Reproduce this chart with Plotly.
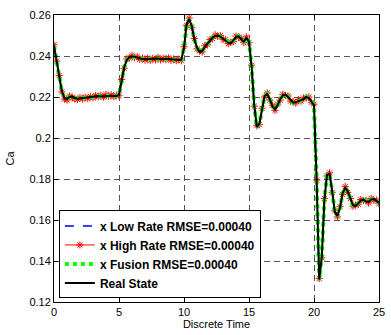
import plotly.graph_objects as go

# Real state values sampled every 0.2 time units (t = 0 ... 25)
real_state = [
    0.2450, 0.2380, 0.2300, 0.2230, 0.2195, 0.2190, 0.2200, 0.2203, 0.2195, 0.2192,
    0.2193, 0.2195, 0.2195, 0.2196, 0.2198, 0.2200, 0.2203, 0.2205, 0.2203, 0.2204,
    0.2207, 0.2208, 0.2206, 0.2205, 0.2205, 0.2210, 0.2280, 0.2345, 0.2380, 0.2395,
    0.2398, 0.2397, 0.2392, 0.2388, 0.2385, 0.2384, 0.2385, 0.2383, 0.2384, 0.2386,
    0.2388, 0.2386, 0.2384, 0.2387, 0.2386, 0.2384, 0.2381, 0.2382, 0.2380, 0.2382,
    0.2440, 0.2555, 0.2580, 0.2545, 0.2480, 0.2440, 0.2420, 0.2425, 0.2445, 0.2460,
    0.2475, 0.2490, 0.2498, 0.2500, 0.2495, 0.2485, 0.2475, 0.2465, 0.2462, 0.2475,
    0.2492, 0.2497, 0.2480, 0.2470, 0.2488, 0.2470, 0.2350, 0.2160, 0.2055, 0.2070,
    0.2140, 0.2205, 0.2215, 0.2190, 0.2155, 0.2140, 0.2160, 0.2190, 0.2208, 0.2212,
    0.2200, 0.2185, 0.2172, 0.2175, 0.2182, 0.2185, 0.2190, 0.2200, 0.2195, 0.2180,
    0.2160, 0.1800, 0.1310, 0.1420, 0.1700, 0.1820, 0.1825, 0.1740, 0.1640, 0.1620,
    0.1660, 0.1730, 0.1758, 0.1740, 0.1700, 0.1672, 0.1668, 0.1682, 0.1695, 0.1700,
    0.1690, 0.1688, 0.1700, 0.1702, 0.1692, 0.1685,
]
time = [round(i * 0.2, 1) for i in range(len(real_state))]

# Estimates (visually indistinguishable from the real state)
low_rate = [
    0.2448, 0.2382, 0.2302, 0.2228, 0.2197, 0.2192, 0.2198, 0.2201, 0.2197, 0.2193,
    0.2192, 0.2196, 0.2194, 0.2197, 0.2197, 0.2201, 0.2202, 0.2204, 0.2204, 0.2203,
    0.2206, 0.2209, 0.2205, 0.2206, 0.2204, 0.2211, 0.2278, 0.2347, 0.2378, 0.2396,
    0.2397, 0.2398, 0.2391, 0.2389, 0.2384, 0.2385, 0.2384, 0.2384, 0.2383, 0.2387,
    0.2387, 0.2387, 0.2383, 0.2388, 0.2385, 0.2385, 0.2380, 0.2383, 0.2379, 0.2383,
    0.2438, 0.2553, 0.2578, 0.2547, 0.2478, 0.2442, 0.2418, 0.2427, 0.2443, 0.2462,
    0.2473, 0.2492, 0.2496, 0.2502, 0.2493, 0.2487, 0.2473, 0.2467, 0.2460, 0.2477,
    0.2490, 0.2499, 0.2478, 0.2472, 0.2486, 0.2472, 0.2348, 0.2162, 0.2053, 0.2072,
    0.2138, 0.2207, 0.2213, 0.2192, 0.2153, 0.2142, 0.2158, 0.2192, 0.2206, 0.2214,
    0.2198, 0.2187, 0.2170, 0.2177, 0.2180, 0.2187, 0.2188, 0.2202, 0.2193, 0.2182,
    0.2158, 0.1802, 0.1312, 0.1418, 0.1702, 0.1818, 0.1827, 0.1738, 0.1642, 0.1618,
    0.1662, 0.1728, 0.1760, 0.1738, 0.1702, 0.1670, 0.1670, 0.1680, 0.1697, 0.1698,
    0.1692, 0.1686, 0.1702, 0.1700, 0.1694, 0.1683,
]
high_rate = [
    0.2455, 0.2375, 0.2305, 0.2225, 0.2190, 0.2185, 0.2205, 0.2198, 0.2190, 0.2188,
    0.2197, 0.2190, 0.2199, 0.2192, 0.2203, 0.2196, 0.2207, 0.2201, 0.2208, 0.2199,
    0.2212, 0.2203, 0.2211, 0.2201, 0.2209, 0.2206, 0.2285, 0.2340, 0.2385, 0.2390,
    0.2403, 0.2392, 0.2397, 0.2383, 0.2390, 0.2380, 0.2389, 0.2378, 0.2389, 0.2381,
    0.2393, 0.2381, 0.2389, 0.2382, 0.2391, 0.2379, 0.2386, 0.2377, 0.2385, 0.2377,
    0.2445, 0.2550, 0.2585, 0.2540, 0.2485, 0.2435, 0.2425, 0.2420, 0.2450, 0.2455,
    0.2480, 0.2485, 0.2503, 0.2495, 0.2500, 0.2480, 0.2480, 0.2460, 0.2467, 0.2470,
    0.2497, 0.2492, 0.2485, 0.2465, 0.2493, 0.2465, 0.2355, 0.2155, 0.2060, 0.2065,
    0.2145, 0.2200, 0.2220, 0.2185, 0.2160, 0.2135, 0.2165, 0.2185, 0.2213, 0.2207,
    0.2205, 0.2180, 0.2177, 0.2170, 0.2187, 0.2180, 0.2195, 0.2195, 0.2200, 0.2175,
    0.2165, 0.1795, 0.1315, 0.1415, 0.1705, 0.1815, 0.1830, 0.1735, 0.1645, 0.1615,
    0.1665, 0.1725, 0.1763, 0.1735, 0.1705, 0.1667, 0.1673, 0.1677, 0.1700, 0.1695,
    0.1695, 0.1683, 0.1705, 0.1697, 0.1697, 0.1680,
]
fusion = [
    0.2449, 0.2381, 0.2301, 0.2229, 0.2196, 0.2191, 0.2199, 0.2202, 0.2196, 0.2192,
    0.2193, 0.2195, 0.2195, 0.2196, 0.2198, 0.2200, 0.2203, 0.2205, 0.2203, 0.2204,
    0.2207, 0.2208, 0.2206, 0.2205, 0.2205, 0.2210, 0.2279, 0.2346, 0.2379, 0.2395,
    0.2398, 0.2397, 0.2392, 0.2388, 0.2385, 0.2384, 0.2385, 0.2383, 0.2384, 0.2386,
    0.2388, 0.2386, 0.2384, 0.2387, 0.2386, 0.2384, 0.2381, 0.2382, 0.2380, 0.2382,
    0.2439, 0.2554, 0.2579, 0.2546, 0.2479, 0.2441, 0.2419, 0.2426, 0.2444, 0.2461,
    0.2474, 0.2491, 0.2497, 0.2501, 0.2494, 0.2486, 0.2474, 0.2466, 0.2461, 0.2476,
    0.2491, 0.2498, 0.2479, 0.2471, 0.2487, 0.2471, 0.2349, 0.2161, 0.2054, 0.2071,
    0.2139, 0.2206, 0.2214, 0.2191, 0.2154, 0.2141, 0.2159, 0.2191, 0.2207, 0.2213,
    0.2199, 0.2186, 0.2171, 0.2176, 0.2181, 0.2186, 0.2189, 0.2201, 0.2194, 0.2181,
    0.2159, 0.1801, 0.1311, 0.1419, 0.1701, 0.1819, 0.1826, 0.1739, 0.1641, 0.1619,
    0.1661, 0.1729, 0.1759, 0.1739, 0.1701, 0.1671, 0.1669, 0.1681, 0.1696, 0.1699,
    0.1691, 0.1687, 0.1701, 0.1701, 0.1693, 0.1684,
]

x_ticks = [0, 5, 10, 15, 20, 25]
y_ticks = [0.12, 0.14, 0.16, 0.18, 0.2, 0.22, 0.24, 0.26]
y_tick_labels = ["0.12", "0.14", "0.16", "0.18", "0.2", "0.22", "0.24", "0.26"]

FONT = "Liberation Sans, Arial, sans-serif"

fig = go.Figure()
fig.add_trace(go.Scatter(
    x=time, y=low_rate, mode="lines", name="x Low Rate RMSE=0.00040",
    line=dict(color="#0000ff", width=1.5, dash="dash"),
))
fig.add_trace(go.Scatter(
    x=time, y=high_rate, mode="lines+markers", name="x High Rate RMSE=0.00040",
    line=dict(color="#ff0000", width=1),
    marker=dict(symbol="asterisk-open", size=6, color="#ff0000",
                line=dict(color="#ff0000", width=1)),
))
fig.add_trace(go.Scatter(
    x=time, y=fusion, mode="lines", name="x Fusion RMSE=0.00040",
    line=dict(color="#00ff00", width=4, dash="dot"),
))
fig.add_trace(go.Scatter(
    x=time, y=real_state, mode="lines", name="Real State",
    line=dict(color="#000000", width=2),
))

axis_common = dict(
    showline=True, linecolor="black", linewidth=1, mirror="ticks",
    ticks="inside", ticklen=4, tickcolor="black",
    showgrid=True, gridcolor="#555555", griddash="6px,4px", gridwidth=1,
    zeroline=False,
    tickfont=dict(family=FONT, size=11, color="black"),
)

fig.update_layout(
    width=391, height=335,
    margin=dict(l=54, r=6, t=15, b=31),
    paper_bgcolor="white", plot_bgcolor="white",
    font=dict(family=FONT, size=11, color="black"),
    showlegend=True,
    legend=dict(
        x=0.015, y=0.319, xanchor="left", yanchor="top",
        bgcolor="white", bordercolor="black", borderwidth=1,
        font=dict(family=FONT, size=12, color="black", weight="bold"),
        tracegroupgap=0, itemwidth=30,
    ),
    xaxis=dict(
        range=[0, 25], tickvals=x_ticks,
        title=dict(text="Discrete Time", font=dict(family=FONT, size=11), standoff=3),
        **axis_common,
    ),
    yaxis=dict(
        range=[0.12, 0.26], tickvals=y_ticks, ticktext=y_tick_labels,
        title=dict(text="Ca", font=dict(family=FONT, size=11), standoff=12),
        **axis_common,
    ),
)

fig.write_html(
    "out.html",
    config={"displayModeBar": False},
    post_script="document.body.style.margin='0';document.body.style.overflow='hidden';",
)
